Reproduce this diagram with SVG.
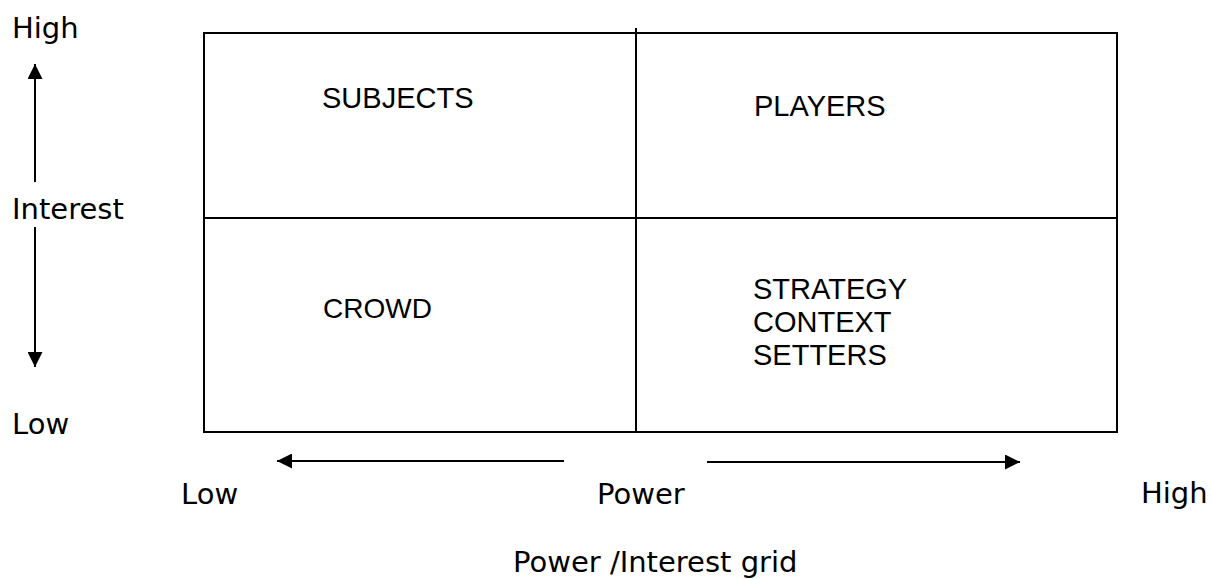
<svg xmlns="http://www.w3.org/2000/svg" width="1212" height="579" viewBox="0 0 1212 579">
<style>
.grid{fill:none;stroke:#000;stroke-width:2}
.ax{stroke:#000;stroke-width:2;fill:none}
.lab{font-family:"DejaVu Sans",Verdana,sans-serif;font-size:29px;fill:#000}
.q{font-family:"Liberation Sans",Arial,sans-serif;font-size:29px;fill:#000}
</style>
<defs>
<marker id="ah" viewBox="0 0 10 10" refX="10" refY="5" markerWidth="7.5" markerHeight="7.5" markerUnits="strokeWidth" orient="auto">
<path d="M0,0 L10,5 L0,10 Z" fill="#000"/>
</marker>
</defs>
<g id="grid">
<rect class="grid" x="204" y="33" width="913" height="399"/>
<line class="grid" x1="636" y1="28" x2="636" y2="432"/>
<line class="grid" x1="204" y1="218" x2="1117" y2="218"/>
</g>
<g id="quadrant-subjects"><text class="q" x="322" y="108">SUBJECTS</text></g>
<g id="quadrant-players"><text class="q" x="754" y="116">PLAYERS</text></g>
<g id="quadrant-crowd"><text class="q" x="323" y="318" style="font-size:28px">CROWD</text></g>
<g id="quadrant-context-setters">
<text class="q" x="753" y="299">STRATEGY</text>
<text class="q" x="753" y="332">CONTEXT</text>
<text class="q" x="753" y="365">SETTERS</text>
</g>
<g id="connectors">
<line class="ax" x1="35" y1="182" x2="35" y2="64" marker-end="url(#ah)"/>
<line class="ax" x1="35" y1="227" x2="35" y2="367" marker-end="url(#ah)"/>
<line class="ax" x1="564" y1="461" x2="277" y2="461" marker-end="url(#ah)"/>
<line class="ax" x1="707" y1="462" x2="1020" y2="462" marker-end="url(#ah)"/>
</g>
<g id="axis-labels">
<text class="lab" x="12" y="38">High</text>
<text class="lab" x="12" y="219">Interest</text>
<text class="lab" x="12" y="434">Low</text>
<text class="lab" x="181" y="504">Low</text>
<text class="lab" x="597" y="504">Power</text>
<text class="lab" x="1141" y="503">High</text>
<text class="lab" x="513" y="572">Power /Interest grid</text>
</g>
</svg>
